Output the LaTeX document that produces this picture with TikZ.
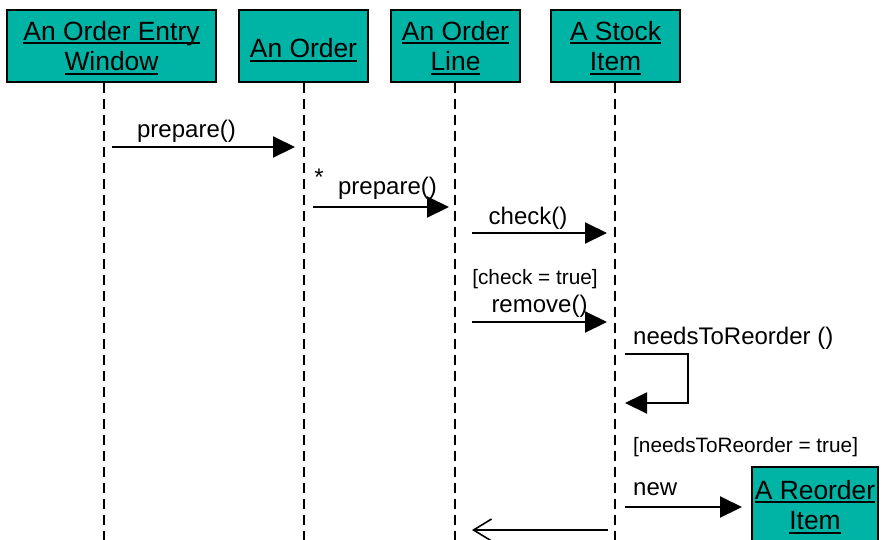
\documentclass[tikz,border=0pt]{standalone}
\usepackage{fontspec}
\setmainfont{Liberation Sans}
\usetikzlibrary{arrows.meta}
\definecolor{objteal}{RGB}{0,180,165}
\newcommand\objfont{\fontsize{26.4}{30.5}\selectfont}
\newcommand\msgfont{\fontsize{24}{28}\selectfont}
\newcommand\guardfont{\fontsize{20.8}{24}\selectfont}
\newcommand\objul[1]{\setbox0\hbox{#1}\leavevmode\rlap{\smash{\rule[-4pt]{\wd0}{1.8pt}}}\box0}

\begin{document}
\begin{tikzpicture}[x=1pt, y=-1pt,
    obj/.style={draw, line width=2pt, fill=objteal, minimum height=72pt, inner sep=0pt, font=\objfont, align=center,
        execute at begin node={\rule{0pt}{23.5pt}}},
    lifeline/.style={line width=2.2pt, dash pattern=on 10pt off 6pt},
    call/.style={line width=2pt, -{Triangle[length=22pt, width=21pt]}},
    reply/.style={line width=1.6pt, -{Straight Barb[length=18pt, width=22pt]}},
    msg/.style={font=\msgfont, inner sep=0pt, anchor=base},
    guard/.style={font=\guardfont, inner sep=0pt, anchor=base}]
    \clip (0,0) rectangle (882,539);

    \node[obj, minimum width=209pt] (win) at (111.5,46) {\objul{An Order Entry}\\\objul{Window}};
    \node[obj, minimum width=129pt] (order) at (303.5,46) {\objul{An Order}};
    \node[obj, minimum width=129pt] (line) at (455.5,46) {\objul{An Order}\\\objul{Line}};
    \node[obj, minimum width=129pt] (stock) at (615.5,46) {\objul{A Stock}\\\objul{Item}};
    \node[obj, minimum width=126pt, minimum height=76pt, anchor=north, execute at begin node={}] (reorder) at (815,466) {\objul{A Reorder}\\\objul{Item}};

    % lifelines
    \coordinate (winEnd) at (104,545);
    \coordinate (orderEnd) at (304,545);
    \coordinate (lineEnd) at (455,545);
    \coordinate (stockEnd) at (615,545);
    \draw[lifeline] (win.south -| winEnd) -- (winEnd);
    \draw[lifeline] (order.south -| orderEnd) -- (orderEnd);
    \draw[lifeline] (line.south -| lineEnd) -- (lineEnd);
    \draw[lifeline] (stock.south -| stockEnd) -- (stockEnd);

    % messages
    \coordinate (prep1a) at (112,147);
    \coordinate (prep1b) at (295,147);
    \draw[call] (prep1a) -- (prep1b);
    \node[msg] (prep1) at (186.5,137) {prepare()};

    \coordinate (prep2a) at (313,207);
    \coordinate (prep2b) at (449,207);
    \draw[call] (prep2a) -- (prep2b);
    \node[msg] (star) at (319,185) {*};
    \node[msg] (prep2) at (387.5,194) {prepare()};

    \coordinate (checka) at (472,233);
    \coordinate (checkb) at (607,233);
    \draw[call] (checka) -- (checkb);
    \node[msg] (check) at (528,224) {check()};

    \coordinate (removea) at (472,322);
    \coordinate (removeb) at (607,322);
    \draw[call] (removea) -- (removeb);
    \node[guard] (checkok) at (535,284) {[check = true]};
    \node[msg] (remove) at (539.5,312) {remove()};

    \coordinate (loopa) at (625,354);
    \coordinate (loopb) at (688,403);
    \coordinate (loopc) at (625,403);
    \draw[call] (loopa) -| (loopb) -- (loopc);
    \node[msg, anchor=base west] (needs) at (633,344) {needsToReorder ()};

    \node[guard, anchor=base west] (needsok) at (633,452) {[needsToReorder = true]};
    \coordinate (newa) at (625,507);
    \draw[call, shorten >=9pt] (newa) -- (newa -| reorder.west);
    \node[msg, anchor=base west] (new) at (633,495) {new};

    \coordinate (backa) at (608,530);
    \coordinate (backb) at (472,530);
    \draw[reply] (backa) -- (backb);
\end{tikzpicture}
\end{document}
